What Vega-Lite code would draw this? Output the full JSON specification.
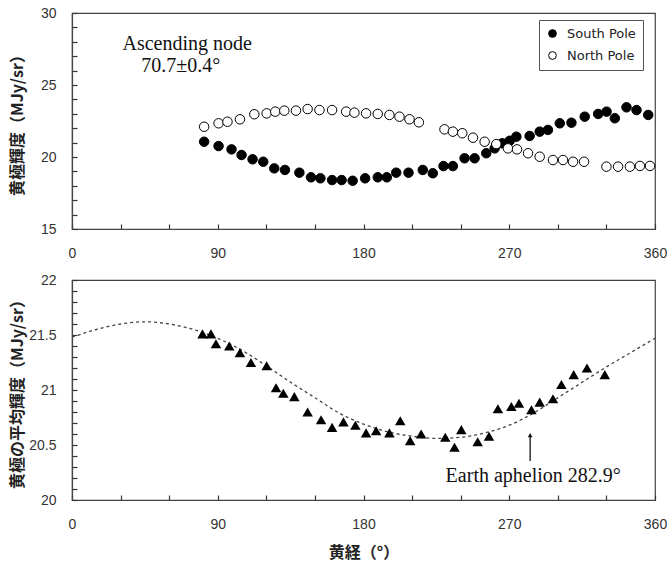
{
  "$schema": "https://vega.github.io/schema/vega-lite/v6.json",
  "background": "white",
  "padding": {"left": 8, "top": 5, "right": 0, "bottom": 0},
  "spacing": 11,
  "config": {
    "view": {"stroke": "#444", "strokeWidth": 1.2},
    "axis": {"grid": false, "domainColor": "#444", "domainWidth": 1.2, "ticks": true, "tickColor": "#333", "tickWidth": 1.2, "tickSize": -5, "labelFont": "Liberation Sans", "labelFontSize": 14, "labelColor": "#333", "labelFlush": false, "labelOverlap": false, "titleFont": "Noto Sans CJK JP", "titleFontSize": 16, "titleFontWeight": "bold", "titleColor": "#222"},
    "axisX": {"labelPadding": 22},
    "axisY": {"labelPadding": 21}
  },
  "datasets": {
    "poles": [
      {"pole": "South Pole", "lon": 81.6, "val": 21.06},
      {"pole": "South Pole", "lon": 90.5, "val": 20.76},
      {"pole": "South Pole", "lon": 98.5, "val": 20.53},
      {"pole": "South Pole", "lon": 104.7, "val": 20.14},
      {"pole": "South Pole", "lon": 111.5, "val": 19.84},
      {"pole": "South Pole", "lon": 118.1, "val": 19.67},
      {"pole": "South Pole", "lon": 124.9, "val": 19.21},
      {"pole": "South Pole", "lon": 131.5, "val": 19.10},
      {"pole": "South Pole", "lon": 140.4, "val": 18.91},
      {"pole": "South Pole", "lon": 147.6, "val": 18.59},
      {"pole": "South Pole", "lon": 153.4, "val": 18.52},
      {"pole": "South Pole", "lon": 160.6, "val": 18.40},
      {"pole": "South Pole", "lon": 166.5, "val": 18.40},
      {"pole": "South Pole", "lon": 173.3, "val": 18.35},
      {"pole": "South Pole", "lon": 181.0, "val": 18.52},
      {"pole": "South Pole", "lon": 188.8, "val": 18.59},
      {"pole": "South Pole", "lon": 194.4, "val": 18.59},
      {"pole": "South Pole", "lon": 200.2, "val": 18.91},
      {"pole": "South Pole", "lon": 207.8, "val": 18.91},
      {"pole": "South Pole", "lon": 216.6, "val": 19.10},
      {"pole": "South Pole", "lon": 222.8, "val": 18.87},
      {"pole": "South Pole", "lon": 229.4, "val": 19.37},
      {"pole": "South Pole", "lon": 235.2, "val": 19.37},
      {"pole": "South Pole", "lon": 242.4, "val": 19.91},
      {"pole": "South Pole", "lon": 248.6, "val": 19.91},
      {"pole": "South Pole", "lon": 255.8, "val": 20.26},
      {"pole": "South Pole", "lon": 261.0, "val": 20.60},
      {"pole": "South Pole", "lon": 265.7, "val": 20.95},
      {"pole": "South Pole", "lon": 270.3, "val": 21.13},
      {"pole": "South Pole", "lon": 274.4, "val": 21.41},
      {"pole": "South Pole", "lon": 282.6, "val": 21.46},
      {"pole": "South Pole", "lon": 288.8, "val": 21.76},
      {"pole": "South Pole", "lon": 293.9, "val": 21.88},
      {"pole": "South Pole", "lon": 301.2, "val": 22.34},
      {"pole": "South Pole", "lon": 308.4, "val": 22.38},
      {"pole": "South Pole", "lon": 316.6, "val": 22.80},
      {"pole": "South Pole", "lon": 324.9, "val": 22.99},
      {"pole": "South Pole", "lon": 330.1, "val": 23.15},
      {"pole": "South Pole", "lon": 335.2, "val": 22.69},
      {"pole": "South Pole", "lon": 342.4, "val": 23.45},
      {"pole": "South Pole", "lon": 348.6, "val": 23.26},
      {"pole": "South Pole", "lon": 355.8, "val": 22.92},
      {"pole": "North Pole", "lon": 81.6, "val": 22.10},
      {"pole": "North Pole", "lon": 90.5, "val": 22.34},
      {"pole": "North Pole", "lon": 96.0, "val": 22.45},
      {"pole": "North Pole", "lon": 103.7, "val": 22.62},
      {"pole": "North Pole", "lon": 112.6, "val": 22.97},
      {"pole": "North Pole", "lon": 120.2, "val": 23.03},
      {"pole": "North Pole", "lon": 125.5, "val": 23.15},
      {"pole": "North Pole", "lon": 131.1, "val": 23.22},
      {"pole": "North Pole", "lon": 138.3, "val": 23.22},
      {"pole": "North Pole", "lon": 145.5, "val": 23.33},
      {"pole": "North Pole", "lon": 152.8, "val": 23.26},
      {"pole": "North Pole", "lon": 160.6, "val": 23.26},
      {"pole": "North Pole", "lon": 169.3, "val": 23.15},
      {"pole": "North Pole", "lon": 174.4, "val": 23.08},
      {"pole": "North Pole", "lon": 181.6, "val": 23.03},
      {"pole": "North Pole", "lon": 188.8, "val": 22.99},
      {"pole": "North Pole", "lon": 196.0, "val": 22.92},
      {"pole": "North Pole", "lon": 202.2, "val": 22.80},
      {"pole": "North Pole", "lon": 208.4, "val": 22.62},
      {"pole": "North Pole", "lon": 214.2, "val": 22.41},
      {"pole": "North Pole", "lon": 230.0, "val": 21.92},
      {"pole": "North Pole", "lon": 235.2, "val": 21.76},
      {"pole": "North Pole", "lon": 241.0, "val": 21.65},
      {"pole": "North Pole", "lon": 247.6, "val": 21.34},
      {"pole": "North Pole", "lon": 254.8, "val": 21.06},
      {"pole": "North Pole", "lon": 262.0, "val": 20.90},
      {"pole": "North Pole", "lon": 269.2, "val": 20.60},
      {"pole": "North Pole", "lon": 274.8, "val": 20.53},
      {"pole": "North Pole", "lon": 281.6, "val": 20.26},
      {"pole": "North Pole", "lon": 288.8, "val": 20.02},
      {"pole": "North Pole", "lon": 297.0, "val": 19.79},
      {"pole": "North Pole", "lon": 303.2, "val": 19.79},
      {"pole": "North Pole", "lon": 309.4, "val": 19.67},
      {"pole": "North Pole", "lon": 316.2, "val": 19.67},
      {"pole": "North Pole", "lon": 330.0, "val": 19.33},
      {"pole": "North Pole", "lon": 337.2, "val": 19.33},
      {"pole": "North Pole", "lon": 344.5, "val": 19.33},
      {"pole": "North Pole", "lon": 350.7, "val": 19.38},
      {"pole": "North Pole", "lon": 356.9, "val": 19.38}
    ],
    "notesTop": [
      {"label": "Ascending node", "lon": 71.1, "val": 27.85},
      {"label": "70.7±0.4°", "lon": 67.1, "val": 26.32}
    ],
    "mean": [
      {"lon": 80.6, "val": 21.51}, {"lon": 85.8, "val": 21.51}, {"lon": 88.9, "val": 21.42},
      {"lon": 97.1, "val": 21.40}, {"lon": 103.7, "val": 21.34}, {"lon": 110.5, "val": 21.25},
      {"lon": 120.2, "val": 21.22}, {"lon": 126.0, "val": 21.02}, {"lon": 130.5, "val": 20.97},
      {"lon": 137.3, "val": 20.94}, {"lon": 145.5, "val": 20.80}, {"lon": 153.8, "val": 20.73},
      {"lon": 160.6, "val": 20.66}, {"lon": 167.6, "val": 20.71}, {"lon": 175.0, "val": 20.68},
      {"lon": 181.6, "val": 20.61}, {"lon": 187.8, "val": 20.63}, {"lon": 196.0, "val": 20.61},
      {"lon": 202.7, "val": 20.72}, {"lon": 208.8, "val": 20.54}, {"lon": 215.6, "val": 20.60},
      {"lon": 230.5, "val": 20.57}, {"lon": 236.2, "val": 20.48}, {"lon": 240.4, "val": 20.64},
      {"lon": 250.5, "val": 20.53}, {"lon": 257.5, "val": 20.58}, {"lon": 263.0, "val": 20.83},
      {"lon": 271.3, "val": 20.85}, {"lon": 276.0, "val": 20.88}, {"lon": 283.7, "val": 20.82},
      {"lon": 288.8, "val": 20.89}, {"lon": 297.0, "val": 20.92}, {"lon": 302.2, "val": 21.05},
      {"lon": 309.8, "val": 21.14}, {"lon": 318.0, "val": 21.20}, {"lon": 329.0, "val": 21.14}
    ],
    "fit": [
      {"lon": 0, "val": 21.48}, {"lon": 15, "val": 21.55}, {"lon": 30, "val": 21.60},
      {"lon": 45, "val": 21.62}, {"lon": 60, "val": 21.60}, {"lon": 75, "val": 21.55},
      {"lon": 90, "val": 21.47}, {"lon": 105, "val": 21.36}, {"lon": 120, "val": 21.22},
      {"lon": 135, "val": 21.07}, {"lon": 150, "val": 20.93}, {"lon": 165, "val": 20.79},
      {"lon": 180, "val": 20.69}, {"lon": 195, "val": 20.62}, {"lon": 210, "val": 20.58},
      {"lon": 225, "val": 20.56}, {"lon": 240, "val": 20.57}, {"lon": 255, "val": 20.61},
      {"lon": 270, "val": 20.68}, {"lon": 285, "val": 20.79}, {"lon": 300, "val": 20.93},
      {"lon": 315, "val": 21.07}, {"lon": 330, "val": 21.21}, {"lon": 345, "val": 21.34},
      {"lon": 360, "val": 21.47}
    ],
    "arrow": [{"lon": 282.9, "y1": 20.355, "y2": 20.59}],
    "notesBottom": [{"label": "Earth aphelion 282.9°", "lon": 284.8, "val": 20.22}]
  },
  "vconcat": [
    {
      "width": 583,
      "height": 216,
      "layer": [
        {
          "data": {"name": "poles"},
          "mark": {"type": "point", "filled": true, "shape": "circle", "size": 90, "stroke": "black", "strokeWidth": 1, "opacity": 1},
          "encoding": {
            "x": {"field": "lon", "type": "quantitative", "scale": {"domain": [0, 360], "nice": false},
              "axis": {"title": null, "tickCount": 100, "values": [0, 30, 60, 90, 120, 150, 180, 210, 240, 270, 300, 330, 360], "labelExpr": "datum.value % 90 === 0 ? datum.label : ''"}},
            "y": {"field": "val", "type": "quantitative", "scale": {"domain": [15, 30], "nice": false, "zero": false},
              "axis": {"title": "黄極輝度（MJy/sr）", "titleX": -47, "titleY": 108, "tickCount": 100, "values": [15, 16, 17, 18, 19, 20, 21, 22, 23, 24, 25, 26, 27, 28, 29, 30], "labelExpr": "datum.value % 5 === 0 ? '' + datum.value : ''"}},
            "fill": {"field": "pole", "type": "nominal", "scale": {"domain": ["South Pole", "North Pole"], "range": ["black", "white"]},
              "legend": {"title": null, "orient": "none", "legendX": 467, "legendY": 7, "strokeColor": "#555", "fillColor": "white", "padding": 7, "rowPadding": 8, "symbolType": "circle", "symbolSize": 60, "symbolStrokeColor": "black", "symbolStrokeWidth": 1, "labelFont": "DejaVu Sans", "labelFontSize": 13, "labelColor": "#222", "labelOffset": 8, "cornerRadius": 0}}
          }
        },
        {
          "data": {"name": "notesTop"},
          "mark": {"type": "text", "font": "Liberation Serif", "fontSize": 20, "color": "#111", "align": "center", "baseline": "middle"},
          "encoding": {
            "x": {"field": "lon", "type": "quantitative"},
            "y": {"field": "val", "type": "quantitative"},
            "text": {"field": "label"}
          }
        }
      ]
    },
    {
      "width": 583,
      "height": 220,
      "encoding": {
        "x": {"field": "lon", "type": "quantitative", "scale": {"domain": [0, 360], "nice": false},
          "axis": {"title": "黄経（°）", "titlePadding": 13, "tickCount": 100, "values": [0, 30, 60, 90, 120, 150, 180, 210, 240, 270, 300, 330, 360], "labelExpr": "datum.value % 90 === 0 ? datum.label : ''"}}
      },
      "layer": [
        {
          "data": {"name": "fit"},
          "mark": {"type": "line", "stroke": "#444", "strokeWidth": 1.3, "strokeDash": [3, 3], "interpolate": "monotone"},
          "encoding": {
            "y": {"field": "val", "type": "quantitative", "scale": {"domain": [20, 22], "nice": false, "zero": false},
              "axis": {"title": "黄極の平均輝度（MJy/sr）", "titleX": -47, "titleY": 110, "tickCount": 100, "values": [20, 20.1, 20.2, 20.3, 20.4, 20.5, 20.6, 20.7, 20.8, 20.9, 21, 21.1, 21.2, 21.3, 21.4, 21.5, 21.6, 21.7, 21.8, 21.9, 22], "labelExpr": "(datum.value * 2) % 1 === 0 ? '' + datum.value : ''"}}
          }
        },
        {
          "data": {"name": "mean"},
          "mark": {"type": "point", "filled": true, "shape": "triangle-up", "size": 110, "color": "black", "opacity": 1},
          "encoding": {"y": {"field": "val", "type": "quantitative"}}
        },
        {
          "data": {"name": "arrow"},
          "mark": {"type": "rule", "color": "#111", "strokeWidth": 1.3},
          "encoding": {"y": {"field": "y1", "type": "quantitative"}, "y2": {"field": "y2"}}
        },
        {
          "data": {"name": "arrow"},
          "mark": {"type": "point", "filled": true, "shape": "triangle-up", "size": 22, "color": "#111", "opacity": 1},
          "encoding": {"y": {"field": "y2", "type": "quantitative"}}
        },
        {
          "data": {"name": "notesBottom"},
          "mark": {"type": "text", "font": "Liberation Serif", "fontSize": 20, "color": "#111", "align": "center", "baseline": "middle"},
          "encoding": {
            "y": {"field": "val", "type": "quantitative"},
            "text": {"field": "label"}
          }
        }
      ]
    }
  ]
}
